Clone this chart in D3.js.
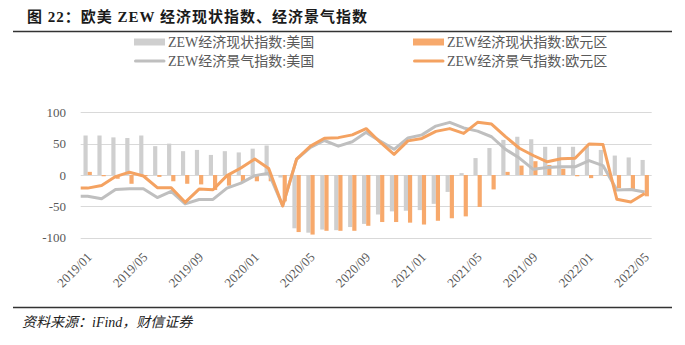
<!DOCTYPE html>
<html>
<head>
<meta charset="utf-8">
<script src="https://cdn.jsdelivr.net/npm/d3@7"></script>
<style>
  body { margin: 0; background: #fff; }
  svg { display: block; }
</style>
</head>
<body>
<div id="chart"></div>
<script>
var months = ["2019/01","2019/02","2019/03","2019/04","2019/05","2019/06","2019/07","2019/08","2019/09","2019/10","2019/11","2019/12",
              "2020/01","2020/02","2020/03","2020/04","2020/05","2020/06","2020/07","2020/08","2020/09","2020/10","2020/11","2020/12",
              "2021/01","2021/02","2021/03","2021/04","2021/05","2021/06","2021/07","2021/08","2021/09","2021/10","2021/11","2021/12",
              "2022/01","2022/02","2022/03","2022/04","2022/05"];
var tickLabels = ["2019/01","2019/05","2019/09","2020/01","2020/05","2020/09","2021/01","2021/05","2021/09","2022/01","2022/05"];
var yTicks = [-100, -50, 0, 50, 100];

// 经济现状指数（柱）
var usCurrent = [63,63,60,59,63,46,50,38,40,32,38,36,42,47,-4,-85,-92,-87,-88,-83,-78,-63,-58,-57,-56,-46,-27,3,27,43,56,61,57,45,45,45,46,40,31,28,24];
var euCurrent = [5,-2,-6,-14,-2,-3,-10,-14,-15,-24,-17,-11,-10,-10,-42,-91,-95,-89,-89,-89,-81,-75,-75,-76,-79,-73,-69,-66,-51,-23,5,15,22,16,10,-2,-5,-1,-21,-23,-34];
// 经济景气指数（线）
var usSentiment = [-34,-38,-23,-22,-22,-36,-26,-46,-39,-39,-21,-13,-1,3,-49,25,44,55,46,53,68,54,41,59,64,78,84,75,70,61,41,27,9,12,13,13,23,15,-24,-23,-27];
var euSentiment = [-20.9,-16.6,-2.5,4.5,-1.6,-20.2,-20.3,-43.6,-22.4,-23.5,-1.0,11.2,25.6,10.4,-49.5,25.2,46.0,58.6,59.6,64.0,73.9,52.3,32.8,54.4,58.3,69.6,74.0,66.3,84.0,81.3,61.2,42.7,31.1,21.0,25.9,26.8,49.4,48.6,-38.7,-43.0,-29.5];

var seriesNames = ["ZEW经济现状指数:美国", "ZEW经济现状指数:欧元区", "ZEW经济景气指数:美国", "ZEW经济景气指数:欧元区"];

var W = 685, H = 345;
var grayBar = "#cfcfcf", orangeBar = "#f7a96c", grayLine = "#bfbfbf", orangeLine = "#f4a261";
var serif = "'Liberation Serif', 'Times New Roman', 'Noto Sans CJK SC', serif";

var svg = d3.select("#chart").append("svg")
    .attr("width", W)
    .attr("height", H);

svg.append("rect").attr("width", W).attr("height", H).attr("fill", "white");

// title + rules
svg.append("text")
    .attr("x", 27)
    .attr("y", 22)
    .attr("font-family", "'Liberation Serif', 'Noto Sans CJK SC', serif")
    .attr("font-weight", "bold")
    .attr("font-size", 15)
    .attr("letter-spacing", 1)
    .attr("fill", "#1a1a1a")
    .text("图 22：欧美 ZEW 经济现状指数、经济景气指数");

svg.append("line").attr("x1", 13).attr("x2", 672).attr("y1", 31.5).attr("y2", 31.5)
    .attr("stroke", "#333").attr("stroke-width", 1.6);
svg.append("line").attr("x1", 13).attr("x2", 672).attr("y1", 307.5).attr("y2", 307.5)
    .attr("stroke", "#333").attr("stroke-width", 1.6);

svg.append("text")
    .attr("x", 22)
    .attr("y", 327)
    .attr("font-family", "'Liberation Serif', 'Noto Sans CJK SC', serif")
    .attr("font-style", "italic")
    .attr("font-size", 14)
    .attr("fill", "#222")
    .text("资料来源：iFind，财信证券");

// scales
var x = d3.scaleBand().domain(months).range([80.7, 651.7]);
var y = d3.scaleLinear().domain([-100, 100]).range([237.7, 112.3]);
var bw = x.bandwidth();
var barW = bw * 0.3;
var cx = function(m) { return x(m) + bw / 2; };

// grid
svg.append("g").selectAll("line")
    .data(yTicks)
    .enter().append("line")
    .attr("x1", x.range()[0]).attr("x2", x.range()[1])
    .attr("y1", function(d) { return Math.round(y(d)) + 0.5; })
    .attr("y2", function(d) { return Math.round(y(d)) + 0.5; })
    .attr("stroke", "#d9d9d9")
    .attr("stroke-width", 1);

svg.append("g").selectAll("text")
    .data(yTicks)
    .enter().append("text")
    .attr("x", 66)
    .attr("y", function(d) { return y(d); })
    .attr("dy", "0.35em")
    .attr("text-anchor", "end")
    .attr("font-family", serif)
    .attr("font-size", 13)
    .attr("fill", "#595959")
    .text(function(d) { return d; });

svg.append("g").selectAll("text")
    .data(tickLabels)
    .enter().append("text")
    .attr("text-anchor", "end")
    .attr("transform", function(d) { return "translate(" + (cx(d) + 5) + ",258) rotate(-45)"; })
    .attr("font-family", serif)
    .attr("font-size", 13)
    .attr("fill", "#595959")
    .text(function(d) { return d; });

// bars
svg.append("g").selectAll("rect")
    .data(usCurrent)
    .enter().append("rect")
    .attr("x", function(d, i) { return cx(months[i]) - barW; })
    .attr("width", barW)
    .attr("y", function(d) { return y(Math.max(0, d)); })
    .attr("height", function(d) { return Math.abs(y(d) - y(0)); })
    .attr("fill", grayBar);

svg.append("g").selectAll("rect")
    .data(euCurrent)
    .enter().append("rect")
    .attr("x", function(d, i) { return cx(months[i]); })
    .attr("width", barW)
    .attr("y", function(d) { return y(Math.max(0, d)); })
    .attr("height", function(d) { return Math.abs(y(d) - y(0)); })
    .attr("fill", orangeBar);

// lines, first segment runs in from the plot edge
function linePoints(vals) {
    var pts = vals.map(function(v, i) { return [cx(months[i]), y(v)]; });
    pts.unshift([x.range()[0], y(vals[0])]);
    return pts;
}
var line = d3.line();

svg.append("path")
    .attr("d", line(linePoints(usSentiment)))
    .attr("fill", "none")
    .attr("stroke", grayLine)
    .attr("stroke-width", 3)
    .attr("stroke-linejoin", "round");

svg.append("path")
    .attr("d", line(linePoints(euSentiment)))
    .attr("fill", "none")
    .attr("stroke", orangeLine)
    .attr("stroke-width", 3)
    .attr("stroke-linejoin", "round");

// legend
var legend = [
    { name: seriesNames[0], color: grayBar, type: "bar", x: 134, y: 42 },
    { name: seriesNames[1], color: orangeBar, type: "bar", x: 413, y: 42 },
    { name: seriesNames[2], color: grayLine, type: "line", x: 134, y: 61 },
    { name: seriesNames[3], color: orangeLine, type: "line", x: 413, y: 61 }
];
var lg = svg.append("g").selectAll("g")
    .data(legend)
    .enter().append("g")
    .attr("transform", function(d) { return "translate(" + d.x + "," + d.y + ")"; });

lg.filter(function(d) { return d.type === "bar"; })
    .append("rect")
    .attr("x", 0).attr("y", -3.5).attr("width", 31).attr("height", 7)
    .attr("fill", function(d) { return d.color; });

lg.filter(function(d) { return d.type === "line"; })
    .append("line")
    .attr("x1", 1.5).attr("x2", 30).attr("y1", 0).attr("y2", 0)
    .attr("stroke", function(d) { return d.color; })
    .attr("stroke-width", 3)
    .attr("stroke-linecap", "round");

lg.append("text")
    .attr("x", 34)
    .attr("dy", "0.36em")
    .attr("font-family", serif)
    .attr("font-size", 14)
    .attr("fill", "#595959")
    .text(function(d) { return d.name; });
</script>
</body>
</html>
